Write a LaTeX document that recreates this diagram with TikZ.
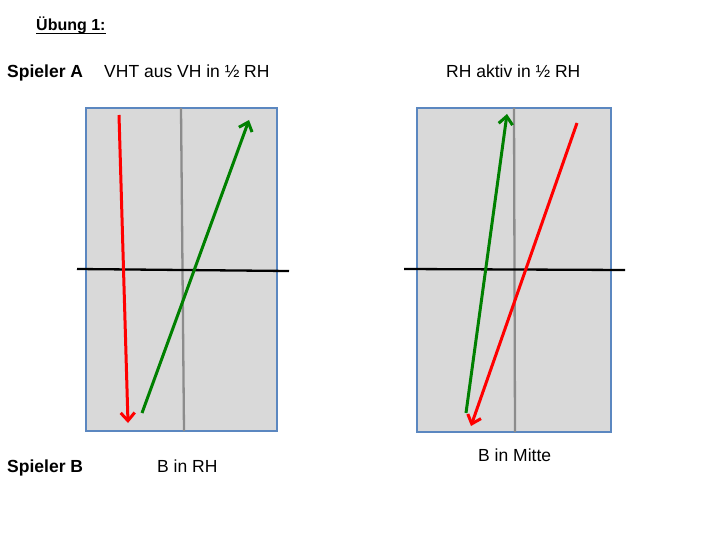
\documentclass[tikz,border=0pt]{standalone}
\usepackage{fontspec}
\setmainfont{Liberation Sans}
\usetikzlibrary{arrows.meta}
\definecolor{courtfill}{HTML}{D9D9D9}
\definecolor{courtedge}{HTML}{5B87C0}
\definecolor{midgray}{HTML}{8C8C8C}
\definecolor{ballred}{HTML}{FF0000}
\definecolor{ballgreen}{HTML}{008000}
\tikzset{
  court/.style={draw=courtedge, fill=courtfill, line width=2pt},
  midline/.style={draw=midgray, line width=2.3pt},
  netline/.style={draw=black, line width=2.3pt},
  shot/.style={line width=3pt, -{Straight Barb[length=8pt,width=14pt,line width=3pt]}},
  lbl/.style={anchor=base west, inner sep=0pt, font=\fontsize{17.5}{20}\selectfont},
  blbl/.style={lbl, font=\fontsize{17.5}{20}\selectfont\bfseries},
}
\begin{document}
\begin{tikzpicture}[x=1pt,y=-1pt]
\useasboundingbox (0,0) rectangle (720,540);
% texts
\node[anchor=base west, inner sep=0pt, font=\fontsize{16}{18}\selectfont\bfseries] (title) at (36,31) {Übung 1:};
\draw[line width=1.1pt] ([yshift=-2.5pt]title.base west) -- ([yshift=-2.5pt]title.base east);
\node[blbl] (spa) at (7,78) {Spieler A};
\node[lbl] (ta) at (104,78) {VHT aus VH in ½ RH};
\node[lbl] (tb) at (446,78) {RH aktiv in ½ RH};
\node[blbl] (spb) at (7,472) {Spieler B};
\node[lbl] (bc) at (157,472) {B in RH};
\node[lbl] (bd) at (478,461) {B in Mitte};
% left court
\path[court] (86,108) rectangle (277,431);
\coordinate (l1t) at (181,108); \coordinate (l1b) at (184,431);
\draw[midline] (l1t) -- (l1b);
\coordinate (n1a) at (77,269); \coordinate (n1b) at (289,271);
\draw[netline] (n1a) -- (n1b);
\coordinate (r1s) at (119,115); \coordinate (r1e) at (128,423);
\draw[shot, ballred] (r1s) -- (r1e);
\coordinate (g1s) at (142,413); \coordinate (g1e) at (249,120);
\draw[shot, ballgreen] (g1s) -- (g1e);
% right court
\path[court] (417,108) rectangle (611,432);
\coordinate (l2t) at (514,108); \coordinate (l2b) at (515,432);
\draw[midline] (l2t) -- (l2b);
\coordinate (n2a) at (404,269); \coordinate (n2b) at (625,270);
\draw[netline] (n2a) -- (n2b);
\coordinate (g2s) at (466,413); \coordinate (g2e) at (507,114);
\draw[shot, ballgreen] (g2s) -- (g2e);
\coordinate (r2s) at (577,123); \coordinate (r2e) at (471,426);
\draw[shot, ballred] (r2s) -- (r2e);
\end{tikzpicture}
\end{document}
